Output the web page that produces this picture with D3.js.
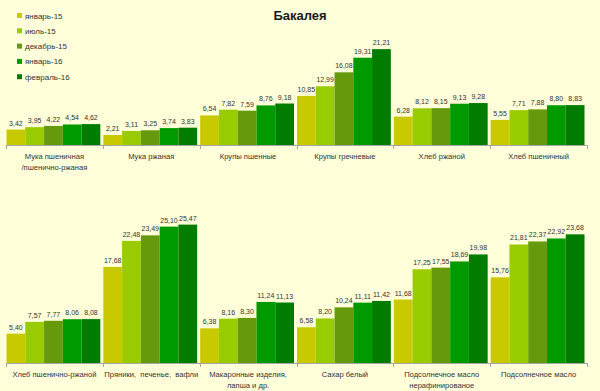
<!DOCTYPE html>
<html>
  <head>
    <meta charset="utf-8">
    <script src="https://d3js.org/d3.v7.min.js"></script>
    <style>
      body { margin: 0; background: #ffffd9; }
      text { font-family: "Liberation Sans", Arial, sans-serif; }
    </style>
  </head>
  <body>
    <script>

const series = ["январь-15", "июль-15", "декабрь-15", "январь-16", "февраль-16"];
const colors = ["#c9c900", "#99cc00", "#669a0c", "#009a00", "#007d00"];

const topCats = ["Мука пшеничная|/пшенично-ржаная", "Мука ржаная", "Крупы пшенные",
                 "Крупы гречневые", "Хлеб ржаной", "Хлеб пшеничный"];
const topJan15 = [3.42, 2.21, 6.54, 10.85, 6.28, 5.55];
const topJul15 = [3.95, 3.11, 7.82, 12.99, 8.12, 7.71];
const topDec15 = [4.22, 3.25, 7.59, 16.08, 8.15, 7.88];
const topJan16 = [4.54, 3.74, 8.76, 19.31, 9.13, 8.80];
const topFeb16 = [4.62, 3.83, 9.18, 21.21, 9.28, 8.83];

const botCats = ["Хлеб пшенично-ржаной", "Пряники,  печенье,  вафли", "Макаронные изделия,|лапша и др.",
                 "Сахар белый", "Подсолнечное масло|нерафинированое", "Подсолнечное масло"];
const botJan15 = [5.40, 17.68, 6.38, 6.58, 11.68, 15.76];
const botJul15 = [7.57, 22.48, 8.16, 8.20, 17.25, 21.81];
const botDec15 = [7.77, 23.49, 8.30, 10.24, 17.55, 22.37];
const botJan16 = [8.06, 25.10, 11.24, 11.11, 18.69, 22.92];
const botFeb16 = [8.08, 25.47, 11.13, 11.42, 19.98, 23.68];

const width = 600, height = 391;

const svg = d3.select("body").append("svg")
    .attr("width", width)
    .attr("height", height);

svg.append("rect").attr("width", width).attr("height", height).attr("fill", "#ffffd9");

svg.append("text")
    .attr("x", 300).attr("y", 20)
    .attr("text-anchor", "middle")
    .attr("font-size", 13).attr("font-weight", "bold")
    .attr("fill", "#1a1a1a")
    .text("Бакалея");

// legend
const leg = svg.selectAll("g.leg")
    .data(series)
    .enter().append("g")
    .attr("transform", (d, i) => `translate(17, ${13 + i * 15.3})`);
leg.append("rect").attr("width", 5).attr("height", 5).attr("fill", (d, i) => colors[i]);
leg.append("text").attr("x", 8).attr("y", 5.5).attr("font-size", 8).attr("fill", "#333").text(d => d);

function panel(cats, vals, yMax, y0, y1) {
  const x0 = d3.scaleBand().domain(cats).range([6, 587]).padding(0);
  const x1 = d3.scaleBand().domain(series).range([0.5, x0.bandwidth() - 2.5]).padding(0);
  const y = d3.scaleLinear().domain([0, yMax]).range([y0, y1]);

  const g = svg.append("g");
  cats.forEach((c, ci) => {
    series.forEach((s, si) => {
      const v = vals[si][ci];
      g.append("rect")
        .attr("x", x0(c) + x1(s))
        .attr("y", y(v))
        .attr("width", x1.bandwidth())
        .attr("height", y0 - y(v))
        .attr("fill", colors[si]);
      g.append("text")
        .attr("x", x0(c) + x1(s) + x1.bandwidth() / 2)
        .attr("y", y(v) - 4)
        .attr("text-anchor", "middle")
        .attr("font-size", 7)
        .attr("fill", "#333")
        .text(v.toFixed(2).replace(".", ","));
    });
  });

  // axis
  g.append("line").attr("x1", 6).attr("x2", 587).attr("y1", y0 + 0.5).attr("y2", y0 + 0.5)
    .attr("stroke", "#a6a6a6");
  const ticks = cats.map(c => x0(c)).concat([587]);
  g.selectAll("line.tick").data(ticks).enter().append("line")
    .attr("x1", d => Math.round(d) + 0.5).attr("x2", d => Math.round(d) + 0.5)
    .attr("y1", y0).attr("y2", y0 + 4)
    .attr("stroke", "#a6a6a6");

  cats.forEach(c => {
    const lines = c.split("|");
    const t = g.append("text")
      .attr("x", x0(c) + x0.bandwidth() / 2)
      .attr("y", y0 + 14)
      .attr("text-anchor", "middle")
      .attr("font-size", 7.6)
      .attr("fill", "#333")
      .attr("xml:space", "preserve");
    lines.forEach((l, i) => {
      t.append("tspan").attr("x", x0(c) + x0.bandwidth() / 2).attr("dy", i ? 11 : 0).text(l);
    });
  });
}

panel(topCats, [topJan15, topJul15, topDec15, topJan16, topFeb16], 25, 145, 32);
panel(botCats, [botJan15, botJul15, botDec15, botJan16, botFeb16], 30, 363, 200);

    </script>
  </body>
</html>
